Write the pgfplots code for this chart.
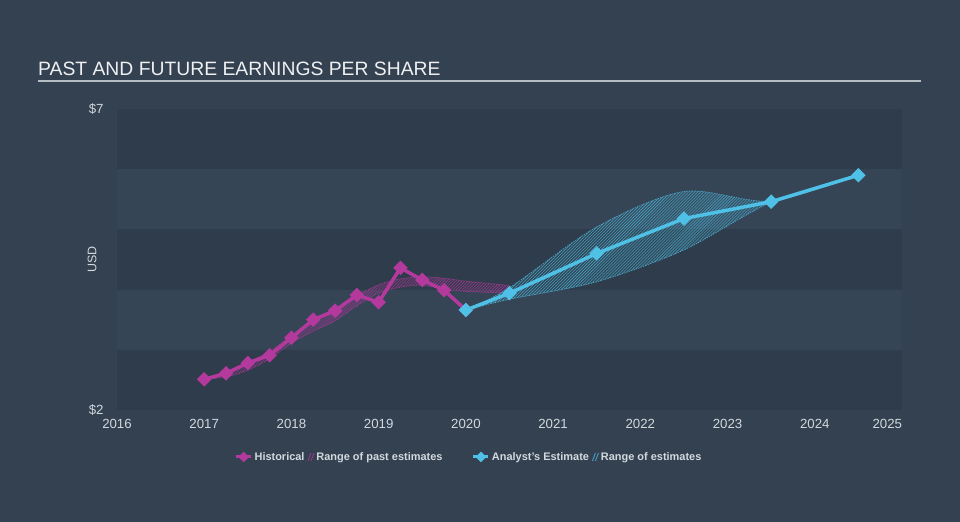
\documentclass[border=0pt]{standalone}
\usepackage{pgfplots}
\pgfplotsset{compat=1.18}
\usepgfplotslibrary{fillbetween}
\usetikzlibrary{patterns}
\usepackage{fontspec}
\setmainfont{Liberation Sans}

\definecolor{bgc}{HTML}{334151}
\definecolor{banddark}{HTML}{2F3C4B}
\definecolor{bandlight}{HTML}{364556}
\definecolor{histc}{HTML}{B3399D}
\definecolor{estc}{HTML}{4FC0E6}
\definecolor{tickc}{HTML}{8E9BA8}
\definecolor{labc}{HTML}{D3D8DD}
\definecolor{titlec}{HTML}{EEF0F2}
\definecolor{rulec}{HTML}{B4BCC4}

\begin{document}
\begin{tikzpicture}
\fill[bgc] (0bp,0bp) rectangle (960bp,522bp);
% background bands of the plot area ($2 .. $7)
\fill[banddark]  (117bp,112bp)   rectangle (902bp,172.2bp);
\fill[bandlight] (117bp,172.2bp) rectangle (902bp,232.4bp);
\fill[banddark]  (117bp,232.4bp) rectangle (902bp,292.6bp);
\fill[bandlight] (117bp,292.6bp) rectangle (902bp,352.8bp);
\fill[banddark]  (117bp,352.8bp) rectangle (902bp,413bp);
\node[anchor=base west, inner sep=0, text=titlec, font=\fontsize{19.4}{22}\selectfont] at (38bp,446bp) {PAST AND FUTURE EARNINGS PER SHARE};
\draw[rulec, line width=2bp] (38bp,441bp) -- (921bp,441bp);

\begin{axis}[
  at={(117bp,112bp)}, anchor=south west,
  scale only axis, width=785bp, height=301bp,
  xmin=2016, xmax=2025, ymin=2, ymax=7,
  fill between/on layer=main,
  axis x line*=bottom, axis y line*=left,
  x axis line style={draw=tickc, line width=1bp, -},
  y axis line style={draw=none},
  xtick={2016,2017,2018,2019,2020,2021,2022,2023,2024,2025},
  xticklabels={2016,2017,2018,2019,2020,2021,2022,2023,2024,\makebox[0pt][r]{2025}},
  ytick={2,7}, yticklabels={\$2,\$7},
  tick align=outside, major tick length=8bp,
  x tick style={draw=tickc, line width=1bp},
  y tick style={draw=none},
  tick label style={text=labc, font=\fontsize{13.3}{15}\selectfont},
  x tick label style={yshift=2bp},
  y tick label style={anchor=east, xshift=-2bp},
  ylabel={USD},
  ylabel style={at={(axis description cs:-0.0318,0.5)}, anchor=center, text=labc, font=\fontsize{12.5}{14}\selectfont},
  clip=false,
  legend columns=4,
  legend style={draw=none, fill=none, at={(0.4484,-0.156)}, anchor=center,
    text=labc, font=\bfseries\fontsize{11}{13}\selectfont,
    /tikz/every even column/.append style={column sep=1bp}},
]
% legend
\addlegendimage{legend image code/.code={
  \draw[histc, line width=3bp] (0bp,0bp) -- (15bp,0bp);
  \fill[histc] (7.5bp,5bp) -- (12.5bp,0bp) -- (7.5bp,-5bp) -- (2.5bp,0bp) -- cycle;}}
\addlegendentry{Historical}
\addlegendimage{legend image code/.code={
  \draw[histc!75!bgc, line width=0.9bp] (0bp,-4bp) -- (3bp,4bp) (3bp,-4bp) -- (6bp,4bp);}}
\addlegendentry{Range of past estimates}
\addlegendimage{legend image code/.code={
  \path[draw=none, fill=none] (-28bp,0bp) rectangle (0bp,0.1bp);
  \draw[estc, line width=3bp] (0bp,0bp) -- (15bp,0bp);
  \fill[estc] (7.5bp,5bp) -- (12.5bp,0bp) -- (7.5bp,-5bp) -- (2.5bp,0bp) -- cycle;}}
\addlegendentry{Analyst's Estimate}
\addlegendimage{legend image code/.code={
  \draw[estc!75!bgc, line width=0.9bp] (0bp,-4bp) -- (3bp,4bp) (3bp,-4bp) -- (6bp,4bp);}}
\addlegendentry{Range of estimates}

% range of past estimates
\addplot[name path=pu, histc!75!bgc, line width=0.7bp, dash pattern=on 1.5bp off 1bp, smooth, forget plot] coordinates {
 (2017.0,2.51) (2017.25,2.63) (2017.5,2.80) (2017.75,2.97) (2018.0,3.24) (2018.25,3.47)
 (2018.5,3.67) (2018.75,3.90) (2019.0,4.08) (2019.25,4.18) (2019.5,4.21) (2019.75,4.19)
 (2020.0,4.14) (2020.5,4.07)};
\addplot[name path=pl, histc!75!bgc, line width=0.7bp, dash pattern=on 1.5bp off 1bp, smooth, forget plot] coordinates {
 (2017.0,2.51) (2017.25,2.55) (2017.5,2.66) (2017.75,2.85) (2018.0,3.11) (2018.25,3.31)
 (2018.5,3.48) (2018.75,3.73) (2019.0,3.94) (2019.25,4.04) (2019.5,4.07) (2019.75,4.01)
 (2020.0,3.97) (2020.5,3.94)};
\addplot[fill=histc, fill opacity=0.10, draw=none, forget plot] fill between[of=pu and pl];
\addplot[pattern=north east lines, pattern color=histc!85!bgc, draw=none, forget plot] fill between[of=pu and pl];

% range of estimates
\addplot[name path=eu, estc!75!bgc, line width=0.7bp, dash pattern=on 1.5bp off 1bp, smooth, forget plot] coordinates {
 (2020.0,3.66) (2020.5,4.03) (2021.5,5.04) (2022.5,5.63) (2023.5,5.47) (2024.5,5.91)};
\addplot[name path=el, estc!75!bgc, line width=0.7bp, dash pattern=on 1.5bp off 1bp, smooth, forget plot] coordinates {
 (2020.0,3.66) (2020.5,3.84) (2021.5,4.13) (2022.5,4.66) (2023.5,5.45) (2024.5,5.88)};
\addplot[fill=estc, fill opacity=0.10, draw=none, forget plot] fill between[of=eu and el];
\addplot[pattern=north east lines, pattern color=estc!85!bgc, draw=none, forget plot] fill between[of=eu and el];

% historical
\addplot[histc, line width=3.5bp, mark=square*, mark size=3.4bp, mark options={rotate=45}, forget plot] coordinates {
 (2017.0,2.51) (2017.25,2.61) (2017.5,2.78) (2017.75,2.91) (2018.0,3.20) (2018.25,3.50)
 (2018.5,3.65) (2018.75,3.91) (2019.0,3.79) (2019.25,4.36) (2019.5,4.16) (2019.75,3.99)
 (2020.0,3.66)};

% analyst estimate
\addplot[estc, line width=3.5bp, mark=square*, mark size=3.4bp, mark options={rotate=45}, forget plot] coordinates {
 (2020.0,3.66) (2020.5,3.94) (2021.5,4.60) (2022.5,5.18) (2023.5,5.46) (2024.5,5.90)};
\end{axis}
\end{tikzpicture}
\end{document}
